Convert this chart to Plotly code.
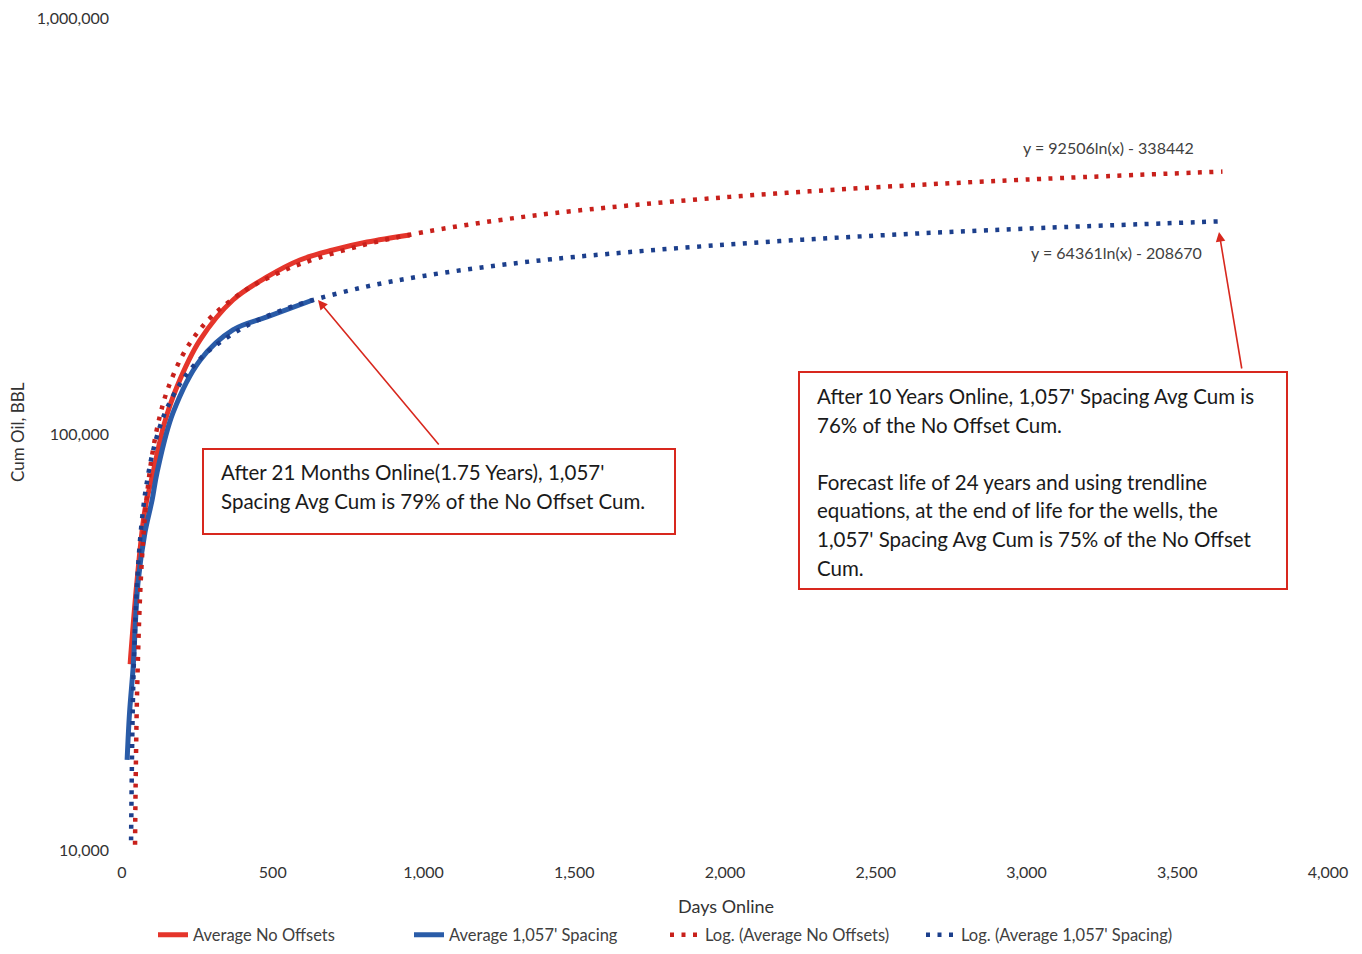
import plotly.graph_objects as go

# ---------------- data ----------------
no_offset_days = [27, 30, 50, 76, 103, 140, 182, 259, 368, 481, 590, 700, 813, 955]
no_offset_cum = [27500, 29500, 43800, 64600, 79300, 104000, 127600, 165500, 206500,
                 234600, 257700, 272300, 284600, 296000]

spacing_days = [17, 25, 37, 53, 76, 100, 116, 169, 259, 368, 481, 633]
spacing_cum = [16200, 21000, 27100, 43100, 56900, 68300, 79300, 110500, 148000,
               175000, 188000, 206500]

trend_no_offset_days = [43, 45, 50, 60, 70, 80, 100, 125, 150, 200, 250, 300, 400, 500,
                        600, 800, 1000, 1250, 1500, 2000, 2500, 3000, 3650]
trend_no_offset_cum = [9492, 13700, 23444, 40306, 54568, 66921, 87565, 108209, 125071,
                       151688, 172332, 189194, 215810, 236454, 253316, 279932, 300576,
                       321220, 338082, 364699, 385343, 402205, 420343]

trend_spacing_days = [29, 30, 35, 40, 50, 60, 70, 80, 100, 125, 150, 200, 250, 300, 400,
                      500, 600, 800, 1000, 1250, 1500, 2000, 2500, 3000, 3650]
trend_spacing_cum = [8053, 10235, 20154, 28750, 43112, 54845, 64768, 73362, 87727, 102086,
                     113820, 132336, 146703, 158436, 176952, 191311, 203045, 221562, 235927,
                     250286, 262019, 280536, 294895, 306634, 319256]

x_ticks = [0, 500, 1000, 1500, 2000, 2500, 3000, 3500, 4000]
x_tick_text = ["0", "500", "1,000", "1,500", "2,000", "2,500", "3,000", "3,500", "4,000"]
y_ticks = [10000, 100000, 1000000]
y_tick_text = ["10,000", "100,000", "1,000,000"]

series_names = ["Average No Offsets", "Average 1,057' Spacing",
                "Log. (Average No Offsets)", "Log. (Average 1,057' Spacing)"]

eq_no_offset = "y = 92506ln(x) - 338442"
eq_spacing = "y = 64361ln(x) - 208670"

box1_lines = ["After 21 Months Online(1.75 Years), 1,057'",
              "Spacing Avg Cum is 79% of the No Offset Cum."]
box2_lines = ["After 10 Years Online, 1,057' Spacing Avg Cum is",
              "76% of the No Offset Cum.",
              "",
              "Forecast life of 24 years and using trendline",
              "equations, at the end of life for the wells, the",
              "1,057' Spacing Avg Cum is 75% of the No Offset",
              "Cum."]

# ---------------- layout helpers ----------------
OFF = 8                       # page body margin
W, H = 1362 - 2 * OFF, 954 - 2 * OFF
SL, SR, ST, SB = 122, 1328, 15, 847   # plot area in screen pixels
L, R, T, B = SL - OFF, SR - OFF, ST - OFF, SB - OFF


def px(xp):
    return (xp - SL) / (SR - SL)


def py(yp):
    return (SB - yp) / (SB - ST)


FONT = "Lato, 'Open Sans', sans-serif"
RED_SOLID = "#E5352B"
BLUE_SOLID = "#2A5CA8"
RED_DOT = "#C8201B"
BLUE_DOT = "#1C3F8C"
BOX_RED = "#D8281E"

fig = go.Figure()
fig.add_trace(go.Scatter(x=no_offset_days, y=no_offset_cum, mode="lines", line_shape="spline",
                         name=series_names[0], line=dict(color=RED_SOLID, width=5)))
fig.add_trace(go.Scatter(x=spacing_days, y=spacing_cum, mode="lines", line_shape="spline",
                         name=series_names[1], line=dict(color=BLUE_SOLID, width=5)))
fig.add_trace(go.Scatter(x=trend_no_offset_days, y=trend_no_offset_cum, mode="lines",
                         name=series_names[2], line_shape="spline",
                         line=dict(color=RED_DOT, width=4.5, dash="4px,7.5px")))
fig.add_trace(go.Scatter(x=trend_spacing_days, y=trend_spacing_cum, mode="lines",
                         name=series_names[3], line_shape="spline",
                         line=dict(color=BLUE_DOT, width=4.5, dash="4px,7.5px")))

annotations = []
shapes = []


def label(xp, yp, text, size, color="#333333", xanchor="center", angle=0):
    annotations.append(dict(x=px(xp), y=py(yp), xref="paper", yref="paper", text=text,
                            showarrow=False, xanchor=xanchor, yanchor="middle",
                            textangle=angle, font=dict(family=FONT, size=size, color=color)))


# equation labels
label(1108, 147, eq_no_offset, 16, "#404040")
label(1116, 252, eq_spacing, 16, "#404040")

# boxes
shapes.append(dict(type="rect", xref="paper", yref="paper", x0=px(203), x1=px(675),
                   y0=py(534), y1=py(449), line=dict(color=BOX_RED, width=2),
                   fillcolor="white", layer="above"))
shapes.append(dict(type="rect", xref="paper", yref="paper", x0=px(799), x1=px(1287),
                   y0=py(589), y1=py(372), line=dict(color=BOX_RED, width=2),
                   fillcolor="white", layer="above"))

for i, t in enumerate(box1_lines):
    label(219, 472 + 29 * i, t, 20.5, "#1a1a1a", xanchor="left")
for i, t in enumerate(box2_lines):
    if t:
        label(815, 396 + 28.6 * i, t, 20.5, "#1a1a1a", xanchor="left")

# arrows
annotations.append(dict(x=px(318), y=py(300), xref="paper", yref="paper", ax=122, ay=146,
                        axref="pixel", ayref="pixel", text="", showarrow=True,
                        arrowhead=2, arrowsize=1.2, arrowwidth=1.6, arrowcolor=BOX_RED))
annotations.append(dict(x=px(1219), y=py(232), xref="paper", yref="paper", ax=23, ay=138,
                        axref="pixel", ayref="pixel", text="", showarrow=True,
                        arrowhead=2, arrowsize=1.2, arrowwidth=1.6, arrowcolor=BOX_RED))

# axis titles
label(726, 906, "Days Online", 18)
label(17, 432, "Cum Oil, BBL", 17, angle=-90)

fig.update_layout(
    width=W, height=H,
    margin=dict(l=L, r=W - R, t=T, b=H - B, autoexpand=False),
    paper_bgcolor="white", plot_bgcolor="white",
    font=dict(family=FONT, size=16, color="#333333"),
    showlegend=True,
    legend=dict(orientation="h", x=px(153), xanchor="left", y=py(935), yanchor="middle",
                font=dict(family=FONT, size=16.5, color="#404040"),
                entrywidth=211, entrywidthmode="pixels",
                traceorder="normal", tracegroupgap=0),
    annotations=annotations, shapes=shapes,
)
fig.update_xaxes(range=[0, 4000], tickvals=x_ticks, ticktext=x_tick_text, showgrid=False,
                 zeroline=False, showline=False, ticks="", ticklabelstandoff=14,
                 tickfont=dict(family=FONT, size=16, color="#333333"))
fig.update_yaxes(type="log", range=[4, 6], tickvals=y_ticks, ticktext=y_tick_text,
                 showgrid=False, zeroline=False, showline=False, ticks="",
                 ticklabelstandoff=12, ticklabeloverflow="allow", ticklabelshift=3,
                 tickfont=dict(family=FONT, size=16, color="#333333"))

fig.write_html("out.html")
